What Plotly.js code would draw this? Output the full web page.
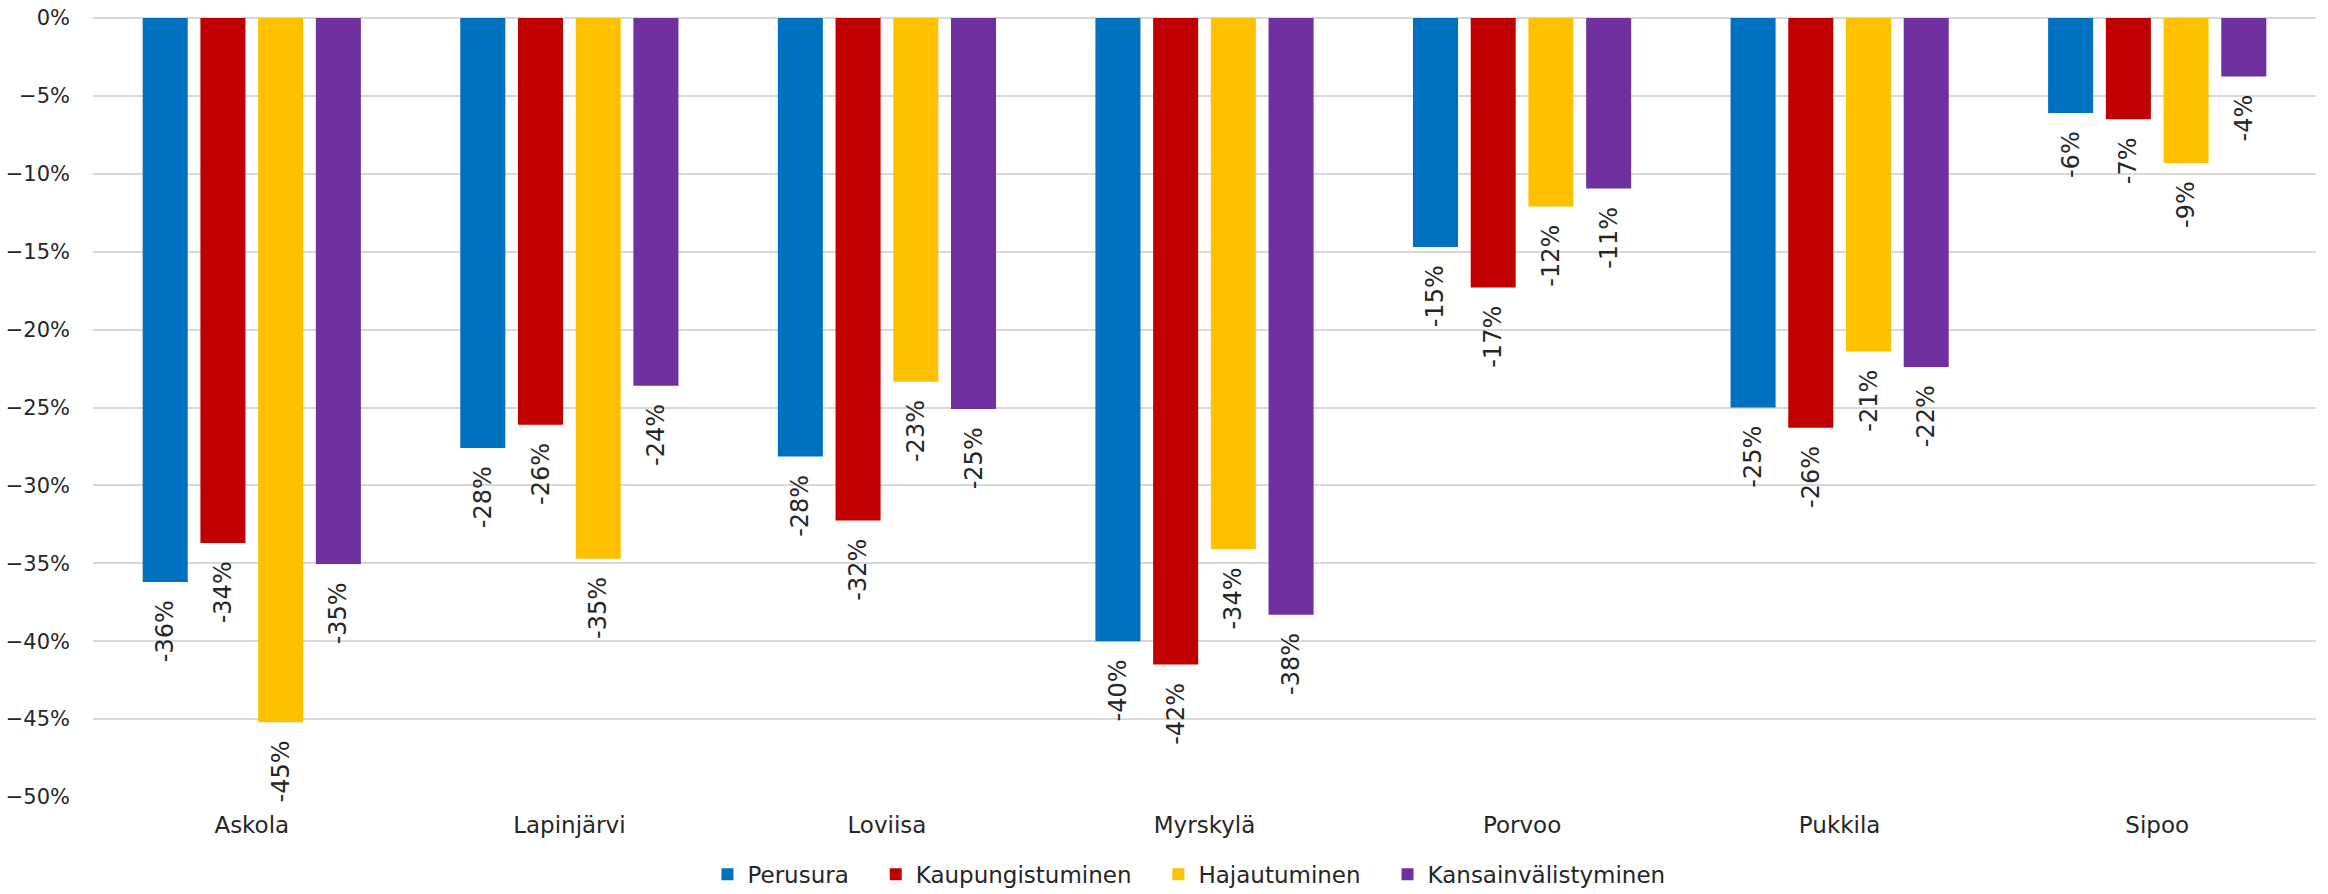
<!DOCTYPE html>
<html>
<head>
<meta charset="utf-8">
<script src="https://cdn.plot.ly/plotly-3.0.1.min.js"></script>
<style>html,body{margin:0;padding:0;background:#fff;}#chart{width:2328px;height:894px;}</style>
</head>
<body>
<div id="chart"></div>
<script>
const categories = ['Askola', 'Lapinjärvi', 'Loviisa', 'Myrskylä', 'Porvoo', 'Pukkila', 'Sipoo'];
const seriesNames = ['Perusura', 'Kaupungistuminen', 'Hajautuminen', 'Kansainvälistyminen'];
const perusura = [-0.362, -0.276, -0.2815, -0.400, -0.147, -0.250, -0.061];
const kaupungistuminen = [-0.337, -0.261, -0.3225, -0.415, -0.173, -0.263, -0.065];
const hajautuminen = [-0.452, -0.347, -0.2335, -0.341, -0.121, -0.214, -0.093];
const kansainvalistyminen = [-0.3505, -0.236, -0.251, -0.383, -0.1095, -0.224, -0.0375];
const yTickVals = [0, -0.05, -0.10, -0.15, -0.20, -0.25, -0.30, -0.35, -0.40, -0.45, -0.50];

const colors = ['#0070C0', '#C00000', '#FFC000', '#7030A0'];
const seriesValues = [perusura, kaupungistuminen, hajautuminen, kansainvalistyminen];
const fontFamily = '"DejaVu Sans", sans-serif';
const textColor = '#262626';
const pad = '\u00a0\u00a0\u00a0';

const traces = seriesValues.map((vals, i) => ({
  type: 'bar',
  name: seriesNames[i] + (i < seriesNames.length - 1 ? pad : ''),
  x: categories,
  y: vals,
  marker: {color: colors[i], line: {width: 0}},
  texttemplate: '%{y:.0%}\u00a0\u00a0',
  textposition: 'outside',
  textangle: -90,
  constraintext: 'none',
  cliponaxis: false,
  textfont: {family: fontFamily, size: 24, color: textColor},
  hoverinfo: 'x+y'
}));

const layout = {
  width: 2328,
  height: 894,
  margin: {l: 93, r: 12, t: 18, b: 97, autoexpand: false},
  paper_bgcolor: '#ffffff',
  plot_bgcolor: '#ffffff',
  barmode: 'group',
  bargap: 0.273,
  bargroupgap: 0.22,
  font: {family: fontFamily, size: 22, color: textColor},
  showlegend: true,
  legend: {
    orientation: 'h',
    x: 0.493, xanchor: 'center',
    yref: 'container',
    y: 0.022, yanchor: 'middle',
    font: {family: fontFamily, size: 23, color: textColor},
    itemclick: false
  },
  xaxis: {
    type: 'category',
    showgrid: false,
    showline: false,
    zeroline: false,
    ticks: '',
    ticklabelstandoff: 12,
    tickfont: {family: fontFamily, size: 23, color: textColor}
  },
  yaxis: {
    range: [-0.5, 0],
    tickvals: yTickVals,
    tickformat: '.0%',
    showgrid: true,
    gridcolor: '#d9d9d9',
    gridwidth: 2,
    zeroline: true,
    zerolinecolor: '#d9d9d9',
    zerolinewidth: 2,
    showline: false,
    ticks: '',
    ticklabelstandoff: 22,
    tickfont: {family: fontFamily, size: 21, color: textColor}
  }
};

Plotly.newPlot('chart', traces, layout, {displayModeBar: false, staticPlot: true});
</script>
</body>
</html>
